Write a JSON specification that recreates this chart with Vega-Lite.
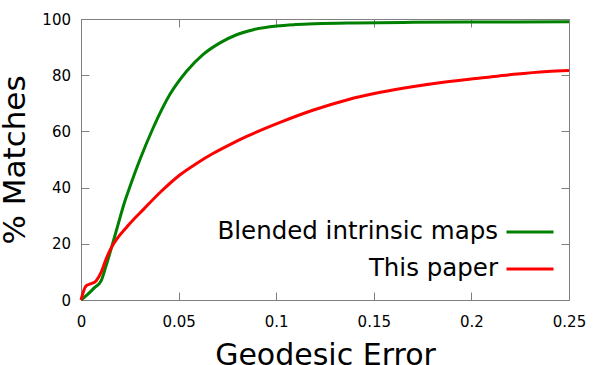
{
  "$schema": "https://vega.github.io/schema/vega-lite/v6.json",
  "width": 488,
  "height": 281,
  "autosize": {"type": "none"},
  "padding": {"left": 81, "top": 19, "right": 39, "bottom": 65},
  "background": "white",
  "config": {
    "view": {"stroke": "#808080", "strokeWidth": 1},
    "font": "DejaVu Sans",
    "axis": {
      "labelFont": "DejaVu Sans",
      "labelFontSize": 15,
      "labelColor": "black",
      "titleFont": "DejaVu Sans",
      "titleFontWeight": "normal",
      "titleColor": "black",
      "domain": false,
      "grid": false,
      "tickColor": "#808080",
      "tickWidth": 1,
      "tickSize": -8
    },
    "legend": {
      "labelFont": "DejaVu Sans",
      "labelFontSize": 24.5,
      "labelColor": "black"
    }
  },
  "data": {
    "values": [
      {"s": "Blended intrinsic maps", "x": 0, "y": 0},
      {"s": "Blended intrinsic maps", "x": 0.0034, "y": 2},
      {"s": "Blended intrinsic maps", "x": 0.0069, "y": 4.4},
      {"s": "Blended intrinsic maps", "x": 0.0103, "y": 6.8},
      {"s": "Blended intrinsic maps", "x": 0.0128, "y": 12.1},
      {"s": "Blended intrinsic maps", "x": 0.0154, "y": 18.1},
      {"s": "Blended intrinsic maps", "x": 0.0188, "y": 26.4},
      {"s": "Blended intrinsic maps", "x": 0.0223, "y": 34.8},
      {"s": "Blended intrinsic maps", "x": 0.025, "y": 40.2},
      {"s": "Blended intrinsic maps", "x": 0.0301, "y": 49.8},
      {"s": "Blended intrinsic maps", "x": 0.037, "y": 61.3},
      {"s": "Blended intrinsic maps", "x": 0.0455, "y": 73.1},
      {"s": "Blended intrinsic maps", "x": 0.0541, "y": 81.4},
      {"s": "Blended intrinsic maps", "x": 0.0626, "y": 87.4},
      {"s": "Blended intrinsic maps", "x": 0.0712, "y": 91.5},
      {"s": "Blended intrinsic maps", "x": 0.0797, "y": 94.4},
      {"s": "Blended intrinsic maps", "x": 0.0883, "y": 96.2},
      {"s": "Blended intrinsic maps", "x": 0.1003, "y": 97.5},
      {"s": "Blended intrinsic maps", "x": 0.11, "y": 98.0},
      {"s": "Blended intrinsic maps", "x": 0.12, "y": 98.3},
      {"s": "Blended intrinsic maps", "x": 0.14, "y": 98.6},
      {"s": "Blended intrinsic maps", "x": 0.17, "y": 98.8},
      {"s": "Blended intrinsic maps", "x": 0.2, "y": 98.9},
      {"s": "Blended intrinsic maps", "x": 0.25, "y": 99.0},
      {"s": "This paper", "x": 0, "y": 0},
      {"s": "This paper", "x": 0.0026, "y": 5},
      {"s": "This paper", "x": 0.0051, "y": 5.8},
      {"s": "This paper", "x": 0.0077, "y": 6.8},
      {"s": "This paper", "x": 0.0103, "y": 9.8},
      {"s": "This paper", "x": 0.0128, "y": 14.5},
      {"s": "This paper", "x": 0.0154, "y": 18.4},
      {"s": "This paper", "x": 0.024, "y": 26.4},
      {"s": "This paper", "x": 0.0325, "y": 32.6},
      {"s": "This paper", "x": 0.041, "y": 38.6},
      {"s": "This paper", "x": 0.0506, "y": 44.5},
      {"s": "This paper", "x": 0.0592, "y": 48.6},
      {"s": "This paper", "x": 0.0678, "y": 52.2},
      {"s": "This paper", "x": 0.0763, "y": 55.3},
      {"s": "This paper", "x": 0.0849, "y": 58.2},
      {"s": "This paper", "x": 0.102, "y": 63.2},
      {"s": "This paper", "x": 0.1191, "y": 67.6},
      {"s": "This paper", "x": 0.1362, "y": 71.2},
      {"s": "This paper", "x": 0.1534, "y": 73.9},
      {"s": "This paper", "x": 0.1705, "y": 76.0},
      {"s": "This paper", "x": 0.1876, "y": 77.7},
      {"s": "This paper", "x": 0.2047, "y": 79.0},
      {"s": "This paper", "x": 0.2218, "y": 80.3},
      {"s": "This paper", "x": 0.2389, "y": 81.3},
      {"s": "This paper", "x": 0.25, "y": 81.7}
    ]
  },
  "layer": [
    {
      "mark": {"type": "line", "strokeWidth": 3, "interpolate": "monotone"},
      "encoding": {
        "x": {
          "field": "x", "type": "quantitative",
          "scale": {"domain": [0, 0.25], "nice": false, "zero": false},
          "axis": {"orient": "bottom", "values": [0, 0.05, 0.1, 0.15, 0.2, 0.25], "format": "~g", "title": "Geodesic Error", "titleFontSize": 30, "labelPadding": 22, "titlePadding": 11, "labelFlush": false, "labelOverlap": false}
        },
        "y": {
          "field": "y", "type": "quantitative",
          "scale": {"domain": [0, 100], "nice": false},
          "axis": {"orient": "left", "values": [0, 20, 40, 60, 80, 100], "format": "d", "title": "% Matches", "titleFontSize": 31, "labelPadding": 18.5, "titlePadding": 10, "labelFlush": false, "labelOverlap": false}
        },
        "color": {
          "field": "s", "type": "nominal",
          "scale": {"domain": ["Blended intrinsic maps", "This paper"], "range": ["#008000", "#ff0000"]},
          "legend": {
            "title": null,
            "orient": "none",
            "legendX": 424,
            "legendY": 188,
            "symbolType": "stroke",
            "symbolSize": 2209,
            "symbolStrokeWidth": 3,
            "labelAlign": "right",
            "labelOffset": -57,
            "labelLimit": 400,
            "rowPadding": -4
          }
        }
      }
    },
    {
      "mark": {"type": "line", "strokeOpacity": 0},
      "encoding": {
        "x": {
          "field": "x", "type": "quantitative",
          "axis": {"orient": "top", "values": [0, 0.05, 0.1, 0.15, 0.2, 0.25], "labels": false, "title": null}
        },
        "y": {
          "field": "y", "type": "quantitative",
          "axis": {"orient": "right", "values": [0, 20, 40, 60, 80, 100], "labels": false, "title": null}
        },
        "detail": {"field": "s"}
      }
    }
  ],
  "resolve": {"axis": {"x": "independent", "y": "independent"}}
}
